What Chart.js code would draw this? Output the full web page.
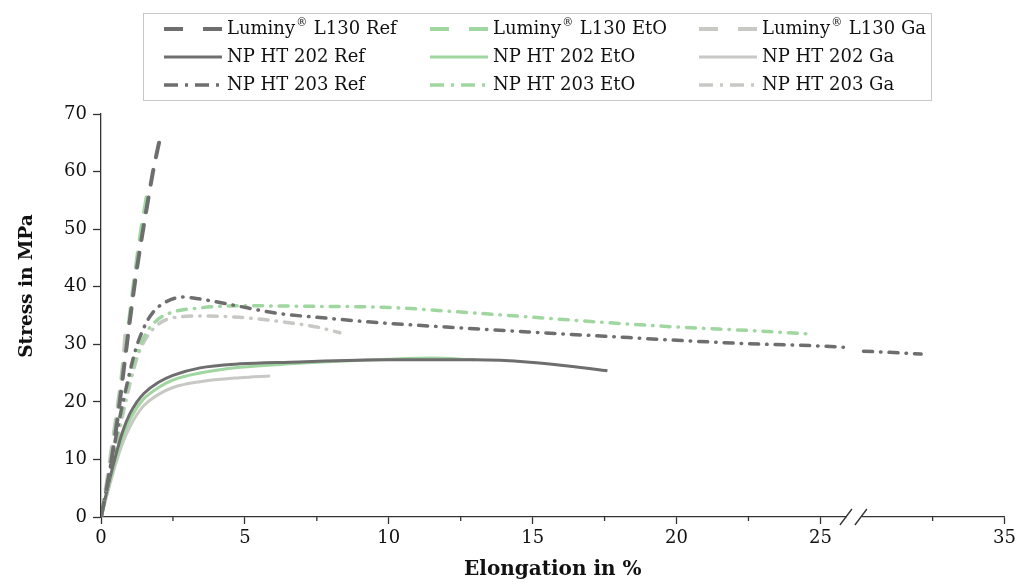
<!DOCTYPE html>
<html>
<head>
<meta charset="utf-8">
<script src="https://cdn.jsdelivr.net/npm/chart.js@4"></script>
<style>
html, body { margin: 0; padding: 0; background: #fff; }
</style>
</head>
<body>
<canvas id="stressChart" width="1020" height="586"></canvas>
<script>
// tensile curves, elongation in %, stress in MPa
const seriesLabels = [
    'Luminy® L130 Ref', 'Luminy® L130 EtO', 'Luminy® L130 Ga',
    'NP HT 202 Ref', 'NP HT 202 EtO', 'NP HT 202 Ga',
    'NP HT 203 Ref', 'NP HT 203 EtO', 'NP HT 203 Ga'
];

const l130RefX = [0, 0.2, 0.4, 0.6, 0.8, 1.0, 1.2, 1.4, 1.6, 1.8, 2.05];
const l130RefY = [0, 5, 11, 18, 26, 34, 41.5, 48, 54, 59.8, 65.8];
const l130EtoX = [0, 0.2, 0.4, 0.6, 0.8, 1.0, 1.2, 1.4, 1.6];
const l130EtoY = [0, 5, 11.5, 19, 27, 35, 43, 50, 56];
const l130GaX = [0, 0.2, 0.4, 0.6, 0.75, 0.85];
const l130GaY = [0, 6, 13, 20, 26, 32];

const ht202RefX = [0, 0.25, 0.5, 0.75, 1.0, 1.25, 1.5, 2.0, 2.5, 3.44, 4.83, 6.56, 10, 13, 14.9, 16.3, 17.6];
const ht202RefY = [0, 5.5, 10.5, 14.8, 17.9, 20.0, 21.5, 23.4, 24.6, 25.9, 26.6, 26.9, 27.3, 27.3, 26.9, 26.2, 25.4];
const ht202EtoX = [0, 0.25, 0.5, 0.75, 1.0, 1.25, 1.5, 2.0, 2.5, 3.44, 4.83, 6.56, 10, 11.5, 13.0];
const ht202EtoY = [0, 5, 9.7, 13.8, 16.8, 19.0, 20.6, 22.5, 23.8, 25, 26, 26.6, 27.4, 27.6, 27.3];
const ht202GaX = [0, 0.25, 0.5, 0.75, 1.0, 1.25, 1.5, 2.0, 2.5, 3.44, 4.83, 5.87];
const ht202GaY = [0, 4.6, 9, 12.8, 15.6, 17.8, 19.4, 21.3, 22.5, 23.5, 24.2, 24.5];

const ht203RefX = [0, 0.3, 0.6, 0.9, 1.2, 1.5, 1.8, 2.2, 2.85, 3.4, 4.6, 6.1, 7.7, 9.8, 12, 15, 17.5, 20, 22.5, 25, 25.8, 26.2, 30.1, 31, 32.1];
const ht203RefY = [0, 8, 16, 23, 29, 33, 35.5, 37.2, 38.2, 37.9, 36.8, 35.4, 34.6, 33.7, 33, 32.1, 31.4, 30.7, 30.1, 29.7, 29.5, null, 28.8, 28.6, 28.3];
const ht203EtoX = [0, 0.3, 0.6, 1.0, 1.5, 1.95, 2.5, 3.4, 4.9, 7.1, 10, 12.5, 15, 17.5, 20, 22.5, 24.6];
const ht203EtoY = [0, 7.5, 15, 24, 31.3, 34.2, 35.6, 36.3, 36.7, 36.6, 36.4, 35.6, 34.7, 33.8, 33.0, 32.4, 31.8];
const ht203GaX = [0, 0.3, 0.6, 1.0, 1.3, 1.6, 2.05, 2.5, 3.4, 4.8, 6.3, 7.5, 8.3];
const ht203GaY = [0, 7, 14, 23, 28.3, 31.3, 33.7, 34.6, 34.9, 34.7, 33.9, 33.0, 32.0];

const xTickValues = [0, 2.5, 5, 7.5, 10, 12.5, 15, 17.5, 20, 22.5, 25, 32.5, 35];
const yTickStep = 10;

// broken x axis: everything past BREAK_AT is shifted left by GAP
const BREAK_AT = 26.2;
const GAP = 3.6;
function toAxis(v) { return v > BREAK_AT ? v - GAP : v; }
function fromAxis(v) { return v > BREAK_AT + 1e-9 ? v + GAP : v; }
function isMajor(v) { return Math.abs(v / 5 - Math.round(v / 5)) < 1e-6; }

const FONT = '"DejaVu Serif", serif';
const colRef = '#6e6e6e', colEto = '#a0d6a0', colGa = '#c8c9c5';
const dashed = [15, 13], dashDot = [9, 8, 0.5, 8];

function points(xs, ys) {
    return xs.map((x, i) => ({ x: toAxis(x), y: ys[i] }));
}

function line(idx, xs, ys, color, dash, width, legendDash) {
    return {
        label: seriesLabels[idx],
        data: points(xs, ys),
        borderColor: color,
        backgroundColor: color,
        borderWidth: width,
        borderDash: dash,
        borderCapStyle: dash.length ? 'round' : 'butt',
        pointRadius: 0,
        fill: false,
        spanGaps: false,
        cubicInterpolationMode: 'monotone',
        legendDash: legendDash
    };
}

const datasets = [
    line(0, l130RefX, l130RefY, colRef, dashed, 4, [19, 20]),
    line(1, l130EtoX, l130EtoY, colEto, dashed, 4, [19, 20]),
    line(2, l130GaX, l130GaY, colGa, dashed, 4, [19, 20]),
    line(3, ht202RefX, ht202RefY, colRef, [], 3, []),
    line(4, ht202EtoX, ht202EtoY, colEto, [], 3, []),
    line(5, ht202GaX, ht202GaY, colGa, [], 3, []),
    line(6, ht203RefX, ht203RefY, colRef, dashDot, 3.5, [14, 7, 3, 7]),
    line(7, ht203EtoX, ht203EtoY, colEto, dashDot, 3.5, [14, 7, 3, 7]),
    line(8, ht203GaX, ht203GaY, colGa, dashDot, 3.5, [14, 7, 3, 7])
];

function drawLabel(ctx, text, x, y) {
    const parts = text.split('®');
    ctx.font = '18px ' + FONT;
    ctx.fillText(parts[0], x, y);
    if (parts.length > 1) {
        x += ctx.measureText(parts[0]).width;
        ctx.font = '11px ' + FONT;
        ctx.fillText('®', x + 1, y - 6);
        x += ctx.measureText('®').width + 2;
        ctx.font = '18px ' + FONT;
        ctx.fillText(parts[1], x, y);
    }
}

// legend laid out as a 3x3 grid inside a thin frame
const gridLegend = {
    id: 'gridLegend',
    afterDraw(chart) {
        const ctx = chart.ctx;
        const colX = [164, 430, 699];
        const rowY = [29, 57, 85];
        ctx.save();
        ctx.strokeStyle = '#c8c8c8';
        ctx.lineWidth = 1;
        ctx.strokeRect(143.5, 13.5, 788, 87);
        chart.data.datasets.forEach((ds, i) => {
            const x = colX[i % 3], y = rowY[Math.floor(i / 3)];
            ctx.strokeStyle = ds.borderColor;
            ctx.lineWidth = ds.borderWidth;
            ctx.lineCap = 'butt';
            ctx.setLineDash(ds.legendDash);
            ctx.beginPath();
            ctx.moveTo(x, y);
            ctx.lineTo(x + 58, y);
            ctx.stroke();
            ctx.setLineDash([]);
            ctx.fillStyle = '#111';
            ctx.textBaseline = 'middle';
            ctx.textAlign = 'left';
            drawLabel(ctx, ds.label, x + 63, y);
        });
        ctx.restore();
    }
};

// minor ticks, axis break marks and the y title
const axisExtras = {
    id: 'axisExtras',
    afterDraw(chart) {
        const ctx = chart.ctx;
        const xs = chart.scales.x;
        const bottom = chart.chartArea.bottom;
        ctx.save();
        ctx.strokeStyle = '#333';
        ctx.lineWidth = 1.3;
        xTickValues.filter(v => !isMajor(v)).forEach(v => {
            const px = xs.getPixelForValue(toAxis(v));
            ctx.beginPath();
            ctx.moveTo(px, bottom);
            ctx.lineTo(px, bottom + 4);
            ctx.stroke();
        });
        const bx = xs.getPixelForValue(BREAK_AT);
        ctx.fillStyle = '#fff';
        ctx.fillRect(bx - 8, bottom - 3, 15, 6);
        [bx - 9, bx + 6].forEach(cx => {
            ctx.beginPath();
            ctx.moveTo(cx - 6, bottom + 8);
            ctx.lineTo(cx + 6, bottom - 8);
            ctx.stroke();
        });
        ctx.translate(27, 286);
        ctx.rotate(-Math.PI / 2);
        ctx.fillStyle = '#111';
        ctx.font = 'bold 18.5px ' + FONT;
        ctx.textAlign = 'center';
        ctx.textBaseline = 'middle';
        ctx.fillText('Stress in MPa', 0, 0);
        ctx.restore();
    }
};

const ctx = document.getElementById('stressChart').getContext('2d');
window.chart = new Chart(ctx, {
    type: 'line',
    data: { datasets: datasets },
    options: {
        responsive: false,
        animation: false,
        devicePixelRatio: 1,
        layout: { padding: { top: 114, right: 15, left: 0, bottom: 0 } },
        plugins: { legend: { display: false }, tooltip: { enabled: false } },
        scales: {
            x: {
                type: 'linear',
                min: 0,
                max: toAxis(35),
                afterBuildTicks: axis => {
                    axis.ticks = xTickValues.map(v => ({ value: toAxis(v) }));
                },
                afterFit: scale => { scale.height = 69; },
                ticks: {
                    autoSkip: false,
                    maxRotation: 0,
                    padding: 4,
                    color: '#111',
                    font: { family: FONT, size: 18 },
                    callback: v => {
                        const real = Math.round(fromAxis(v) * 100) / 100;
                        return isMajor(real) ? String(real) : '';
                    }
                },
                grid: {
                    drawOnChartArea: false,
                    tickLength: 7,
                    tickWidth: 1.3,
                    tickColor: c => isMajor(Math.round(fromAxis(c.tick.value) * 100) / 100) ? '#333' : 'rgba(0,0,0,0)'
                },
                border: { color: '#333', width: 1.3 },
                title: {
                    display: true,
                    text: 'Elongation in %',
                    color: '#111',
                    font: { family: FONT, size: 20, weight: 'bold' },
                    padding: { top: 5 }
                }
            },
            y: {
                min: 0,
                max: 70,
                afterFit: scale => { scale.width = 101; },
                ticks: {
                    stepSize: yTickStep,
                    padding: 6,
                    color: '#111',
                    font: { family: FONT, size: 18 }
                },
                grid: {
                    drawOnChartArea: false,
                    tickLength: 8,
                    tickWidth: 1.3,
                    tickColor: '#333'
                },
                border: { color: '#333', width: 1.3 }
            }
        }
    },
    plugins: [gridLegend, axisExtras]
});
</script>
</body>
</html>
